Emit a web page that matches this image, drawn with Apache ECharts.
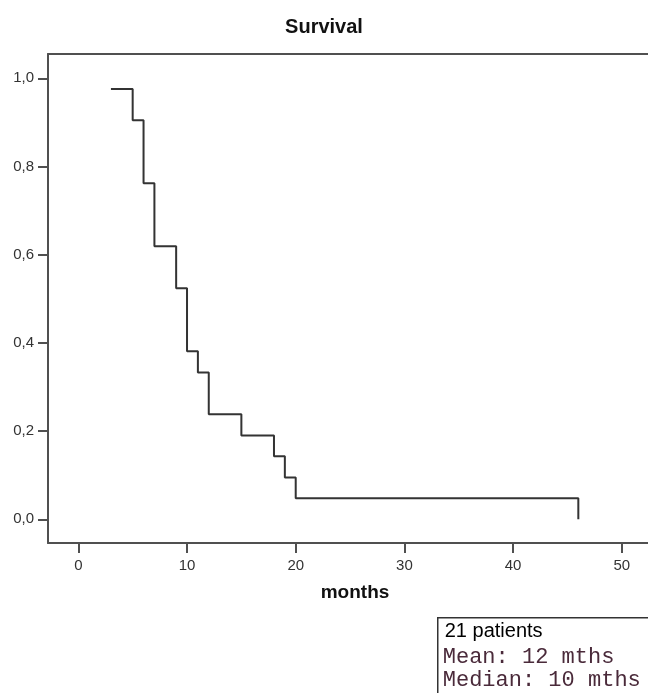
<!DOCTYPE html>
<html>
<head>
<meta charset="utf-8">
<script src="https://cdn.jsdelivr.net/npm/echarts@6/dist/echarts.min.js"></script>
<style>
html,body{margin:0;padding:0;background:#fff;}
#chart{width:648px;height:693px;}
</style>
</head>
<body>
<div id="chart"></div>
<script>
// Kaplan-Meier step points: month at which survival changes, survival after change
const months = [3, 5, 6, 7, 9, 10, 11, 12, 15, 18, 19, 20, 46];
const survival = [0.976, 0.905, 0.762, 0.619, 0.524, 0.381, 0.333, 0.238, 0.190, 0.143, 0.095, 0.048, 0.0];
const xTicks = [0, 10, 20, 30, 40, 50];
const yTicks = [0.0, 0.2, 0.4, 0.6, 0.8, 1.0];
const titleText = 'Survival';
const xAxisName = 'months';
const boxLines = ['21 patients', 'Mean: 12 mths', 'Median: 10 mths'];

const chart = echarts.init(document.getElementById('chart'), null, {renderer: 'canvas'});
const frameColor = '#505050';

const option = {
  animation: false,
  backgroundColor: '#ffffff',
  title: {
    text: titleText,
    left: 319, top: 12, textAlign: 'center',
    textStyle: {fontFamily: 'Liberation Sans, Arial, sans-serif', fontSize: 20, fontWeight: 'bold', color: '#111'}
  },
  grid: {left: 48, top: 54, right: 0, bottom: 150, containLabel: false},
  xAxis: [{
    type: 'value', position: 'bottom',
    min: -2.79, max: 52.41,
    axisLine: {show: true, onZero: false, lineStyle: {color: frameColor, width: 2}},
    axisTick: {show: true, length: 10, lineStyle: {color: frameColor, width: 2}, customValues: xTicks},
    axisLabel: {customValues: xTicks, margin: 15, fontFamily: 'Liberation Sans, Arial, sans-serif', fontSize: 15, color: '#333'},
    splitLine: {show: false},
    name: xAxisName, nameLocation: 'middle', nameGap: 40,
    nameTextStyle: {fontFamily: 'Liberation Sans, Arial, sans-serif', fontSize: 19, fontWeight: 'bold', color: '#111', padding: [0, 0, 0, 14]}
  }, {
    type: 'value', position: 'top',
    min: -2.79, max: 52.41,
    axisLine: {show: true, onZero: false, lineStyle: {color: frameColor, width: 2}},
    axisTick: {show: false}, axisLabel: {show: false}, splitLine: {show: false}
  }],
  yAxis: {
    type: 'value', position: 'left',
    min: -0.0537, max: 1.0551,
    axisLine: {show: true, onZero: false, lineStyle: {color: frameColor, width: 2}},
    axisTick: {show: true, length: 10, lineStyle: {color: frameColor, width: 2}, customValues: yTicks},
    axisLabel: {customValues: yTicks, margin: 14, fontFamily: 'Liberation Sans, Arial, sans-serif', fontSize: 15, color: '#333',
      formatter: v => v.toFixed(1).replace('.', ',')},
    splitLine: {show: false}
  },
  series: [{
    type: 'line',
    step: 'end',
    showSymbol: false,
    symbol: 'none',
    data: months.map((m, i) => [m, survival[i]]),
    lineStyle: {color: '#333', width: 2},
    clip: true
  }],
  graphic: [{
    type: 'group', left: 437, top: 617,
    children: [
      {type: 'rect', shape: {x: 0, y: 0, width: 240, height: 100}, style: {fill: '#fff', stroke: '#333', lineWidth: 1.5}},
      {type: 'text', x: 7, y: 4, style: {text: boxLines[0], font: '20px "Liberation Sans", Arial, sans-serif', fill: '#000'}},
      {type: 'text', x: 5, y: 28, style: {text: boxLines[1], font: '22px "Liberation Mono", "Courier New", monospace', fill: '#4a2a3a'}},
      {type: 'text', x: 5, y: 51, style: {text: boxLines[2], font: '22px "Liberation Mono", "Courier New", monospace', fill: '#4a2a3a'}}
    ]
  }]
};
chart.setOption(option);
</script>
</body>
</html>
